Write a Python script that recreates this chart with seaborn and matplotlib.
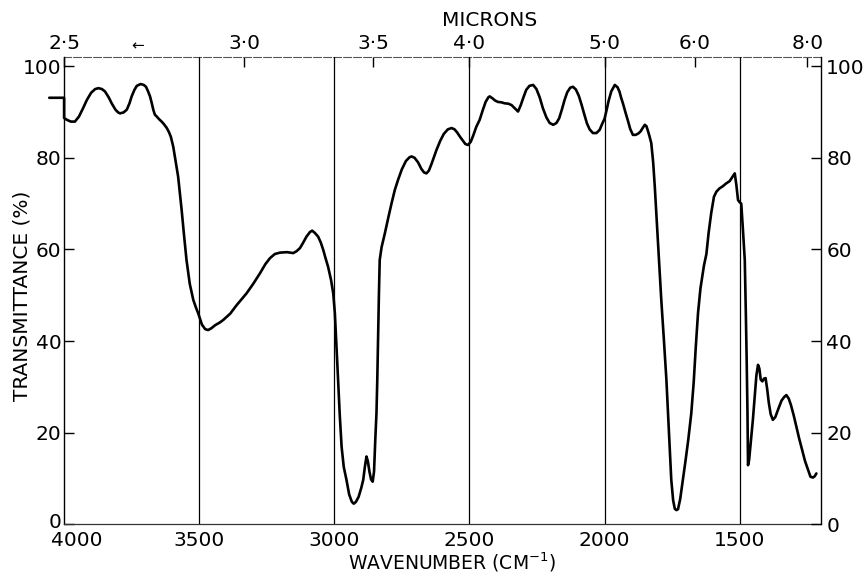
import numpy as np
import pandas as pd
import matplotlib
matplotlib.use("Agg")
import matplotlib.pyplot as plt
import matplotlib.transforms as mtransforms
import seaborn as sns

# Infrared spectrum trace: wavenumber (cm^-1) vs. transmittance (%)
wavenumber = [
    4055, 4000, 4000, 3990, 3975, 3960, 3945, 3930, 3916, 3900, 3885, 3873, 3860, 3849,
    3835, 3824, 3810, 3800, 3793, 3780, 3768, 3758, 3750, 3740, 3731, 3717, 3705, 3697,
    3690, 3682, 3675, 3670, 3664, 3657, 3648, 3639, 3630, 3620, 3612, 3605, 3596, 3588,
    3578, 3570, 3565, 3556, 3547, 3535, 3522, 3512, 3504, 3490, 3478, 3467, 3455, 3440,
    3425, 3411, 3385, 3362, 3345, 3325, 3300, 3275, 3255, 3238, 3220, 3201, 3175, 3152,
    3140, 3127, 3115, 3103, 3090, 3082, 3072, 3060, 3050, 3041, 3032, 3023, 3012, 3004,
    2998, 2992, 2986, 2980, 2973, 2965, 2955, 2945, 2935, 2928, 2920, 2910, 2900, 2893,
    2887, 2881, 2876, 2870, 2864, 2858, 2853, 2848, 2844, 2841, 2838, 2835, 2832, 2825,
    2813, 2800, 2788, 2776, 2764, 2750, 2735, 2722, 2714, 2703, 2690, 2678, 2668, 2659,
    2650, 2640, 2630, 2622, 2608, 2595, 2580, 2566, 2555, 2545, 2535, 2525, 2515, 2505,
    2495, 2485, 2475, 2462, 2450, 2440, 2430, 2425, 2415, 2405, 2395, 2381, 2370, 2355,
    2344, 2332, 2320, 2310, 2300, 2290, 2278, 2264, 2252, 2240, 2228, 2215, 2203, 2190,
    2178, 2168, 2158, 2148, 2138, 2127, 2117, 2106, 2095, 2085, 2075, 2065, 2055, 2043,
    2030, 2018, 2008, 2000, 1992, 1985, 1975, 1962, 1952, 1945, 1938, 1932, 1922, 1912,
    1905, 1895, 1885, 1875, 1866, 1860, 1851, 1845, 1840, 1834, 1827, 1820, 1814, 1808,
    1802, 1796, 1790, 1780, 1771, 1762, 1753, 1746, 1740, 1734, 1728, 1720, 1710, 1700,
    1690, 1679, 1670, 1662, 1654, 1645, 1632, 1623, 1615, 1605, 1595, 1586, 1575, 1562,
    1550, 1537, 1527, 1518, 1512, 1506, 1500, 1494, 1488, 1481, 1477, 1474, 1471, 1469,
    1465, 1458, 1451, 1444, 1438, 1432, 1427, 1422, 1416, 1410, 1404, 1398, 1392, 1385,
    1377, 1368, 1358, 1345, 1335, 1327, 1318, 1310, 1300, 1290, 1280, 1270, 1258, 1247,
    1238, 1229, 1222, 1216,
]
transmittance = [
    93.1, 93.1, 88.7, 88.3, 87.9, 87.9, 89.0, 90.8, 92.6, 94.2, 95.0, 95.2, 95.0, 94.5,
    93.2, 91.9, 90.5, 89.9, 89.7, 89.9, 90.5, 91.9, 93.4, 94.8, 95.7, 96.1, 95.9, 95.5,
    94.6, 93.4, 91.8, 90.5, 89.4, 89.0, 88.4, 87.9, 87.3, 86.5, 85.6, 84.6, 82.4, 79.5,
    75.9, 71.5, 68.6, 63.0, 57.7, 52.5, 49.0, 47.3, 46.1, 43.6, 42.6, 42.4, 42.8, 43.5,
    44.0, 44.6, 46.0, 47.8, 49.0, 50.4, 52.5, 54.8, 56.8, 58.1, 59.0, 59.3, 59.4, 59.2,
    59.6, 60.3, 61.5, 62.8, 63.8, 64.1, 63.6, 62.8, 61.5, 59.9, 58.0, 56.2, 53.3, 50.4,
    46.1, 39.0, 31.5, 24.0, 16.9, 12.5, 9.7, 6.5, 4.9, 4.5, 4.9, 6.0, 8.0, 9.7,
    12.5, 14.8, 13.8, 11.5, 9.8, 9.3, 11.5, 19.0, 24.2, 31.5, 41.0, 50.0, 57.7, 60.5,
    63.5, 67.0, 70.1, 73.0, 75.2, 77.5, 79.3, 80.1, 80.3, 80.0, 79.0, 77.6, 76.8, 76.6,
    77.2, 78.7, 80.4, 81.7, 83.7, 85.2, 86.2, 86.5, 86.2, 85.5, 84.6, 83.8, 83.0, 82.8,
    83.5, 85.0, 86.7, 88.3, 90.5, 92.2, 93.2, 93.4, 93.0, 92.5, 92.2, 92.1, 91.9, 91.8,
    91.5, 90.8, 90.1, 91.5, 93.2, 94.8, 95.7, 95.9, 95.0, 93.2, 90.8, 88.8, 87.6, 87.2,
    87.6, 88.6, 90.5, 92.6, 94.3, 95.3, 95.5, 94.9, 93.5, 91.6, 89.5, 87.5, 86.2, 85.4,
    85.4, 86.1, 87.5, 88.5, 90.5, 92.4, 94.5, 95.9, 95.4, 94.5, 93.0, 91.9, 89.8, 87.8,
    86.3, 85.0, 85.0, 85.3, 85.8, 86.4, 87.2, 86.9, 86.0, 84.8, 83.2, 79.0, 73.7, 67.5,
    61.4, 55.2, 49.0, 40.0, 31.5, 20.5, 9.7, 5.2, 3.4, 3.1, 3.3, 5.5, 9.7, 14.0,
    18.5, 24.2, 31.0, 39.0, 46.1, 51.5, 56.5, 59.0, 63.5, 68.0, 71.5, 72.6, 73.3, 73.8,
    74.4, 74.9, 75.8, 76.6, 74.0, 70.8, 70.3, 70.0, 64.5, 57.7, 46.0, 36.0, 24.5, 12.9,
    14.0, 18.5, 22.8, 28.0, 32.5, 34.8, 34.0, 31.6, 31.2, 31.8, 31.9, 29.5, 26.5, 24.0,
    22.8, 23.4, 25.0, 27.0, 27.8, 28.2, 27.4, 26.0, 23.8, 21.3, 18.8, 16.5, 13.8, 11.9,
    10.4, 10.2, 10.5, 11.1,
]

x_ticks = [4000, 3500, 3000, 2500, 2000, 1500]
y_ticks = [0, 20, 40, 60, 80, 100]
chart_lines = [3500, 3000, 2500, 2000, 1500]
micron_ticks = [2.5, 3.0, 3.5, 4.0, 5.0, 6.0, 8.0]
micron_labels = ["2·5", "3·0", "3·5", "4·0", "5·0", "6·0", "8·0"]

sns.set_theme(style="white")
plt.rcParams["font.family"] = ["DejaVu Sans"]
plt.rcParams["mathtext.default"] = "regular"
plt.rcParams["text.color"] = "black"

W, H = 865, 572
fig = plt.figure(figsize=(W / 100, H / 100), dpi=100)
fig.patch.set_facecolor("white")
left_px, right_px, top_px, bot_px = 64.1, 820.7, 57.0, 524.3
ax = fig.add_axes([left_px / W, 1 - bot_px / H, (right_px - left_px) / W, (bot_px - top_px) / H])
ax.set_facecolor("white")

df = pd.DataFrame({"wavenumber": wavenumber, "transmittance": transmittance})
sns.lineplot(data=df, x="wavenumber", y="transmittance", sort=False, estimator=None,
             color="black", linewidth=1.9, ax=ax, zorder=3)
ax.lines[0].set_clip_on(False)

for wn in chart_lines:
    ax.axvline(wn, color="black", linewidth=0.9, zorder=2)

ax.set_xlim(4000, 1200)
ax.set_ylim(0, 102)
ax.set_xticks(x_ticks)
ax.set_xticklabels([str(v) for v in x_ticks])
ax.set_yticks(y_ticks)
ax.set_yticklabels([str(v) for v in y_ticks])
ax.tick_params(axis="x", direction="in", length=0, pad=5, labelsize=14.5, colors="black")
ax.tick_params(axis="y", direction="in", length=7, width=1.0, pad=2, labelsize=14.5,
               colors="black", left=True)
ax.set_xlabel("")
ax.set_ylabel("")


def nudge(label, dx_px, dy_px):
    label.set_transform(label.get_transform()
                        + mtransforms.ScaledTranslation(dx_px / 100, dy_px / 100,
                                                        fig.dpi_scale_trans))


# corner labels: "4000" sits right of the frame corner, the left "0" slightly above it
nudge(ax.get_xticklabels()[0], 13, 0)
nudge(ax.get_yticklabels()[0], 0, 4)

for side in ["left", "right"]:
    ax.spines[side].set_color("black")
    ax.spines[side].set_linewidth(1.0)
ax.spines["bottom"].set_color("#333333")
ax.spines["bottom"].set_linewidth(0.9)
ax.spines["top"].set_visible(False)
ax.spines["right"].set_visible(False)

# right-hand transmittance scale
ax2 = ax.twinx()
ax2.set_ylim(0, 102)
ax2.set_yticks(y_ticks)
ax2.set_yticklabels([str(v) for v in y_ticks])
ax2.tick_params(axis="y", direction="in", length=7, width=1.0, pad=4, labelsize=14.5,
                colors="black", right=True)
for side in ["left", "top", "bottom"]:
    ax2.spines[side].set_visible(False)
ax2.spines["right"].set_color("black")
ax2.spines["right"].set_linewidth(1.0)


def to_microns(x):
    x = np.asarray(x, dtype=float)
    with np.errstate(divide="ignore", invalid="ignore"):
        return 1e4 / x


# wavelength scale along the top
sec = ax.secondary_xaxis("top", functions=(to_microns, to_microns))
sec.set_xticks(micron_ticks)
sec.set_xticklabels(micron_labels)
sec.tick_params(axis="x", direction="in", length=7, width=1.0, pad=3, labelsize=14.5,
                colors="black")
sec.spines["top"].set_color("#555555")
sec.spines["top"].set_linewidth(0.8)
sec.spines["top"].set_linestyle((0, (7, 2)))

fig.text(490 / W, 1 - 21 / H, "MICRONS", ha="center", va="center", fontsize=14.5,
         color="black")
fig.text(452 / W, 1 - 562 / H, "WAVENUMBER (CM$^{-1}$)", ha="center", va="center",
         fontsize=13.5, color="black")
fig.text(22 / W, 1 - 296 / H, "TRANSMITTANCE (%)", ha="center", va="center",
         rotation=90, fontsize=14.5, color="black")
fig.text(138 / W, 1 - 46 / H, "\u2190", ha="center", va="center", fontsize=11,
         color="black")

fig.savefig("out.png", dpi=100, facecolor="white")
